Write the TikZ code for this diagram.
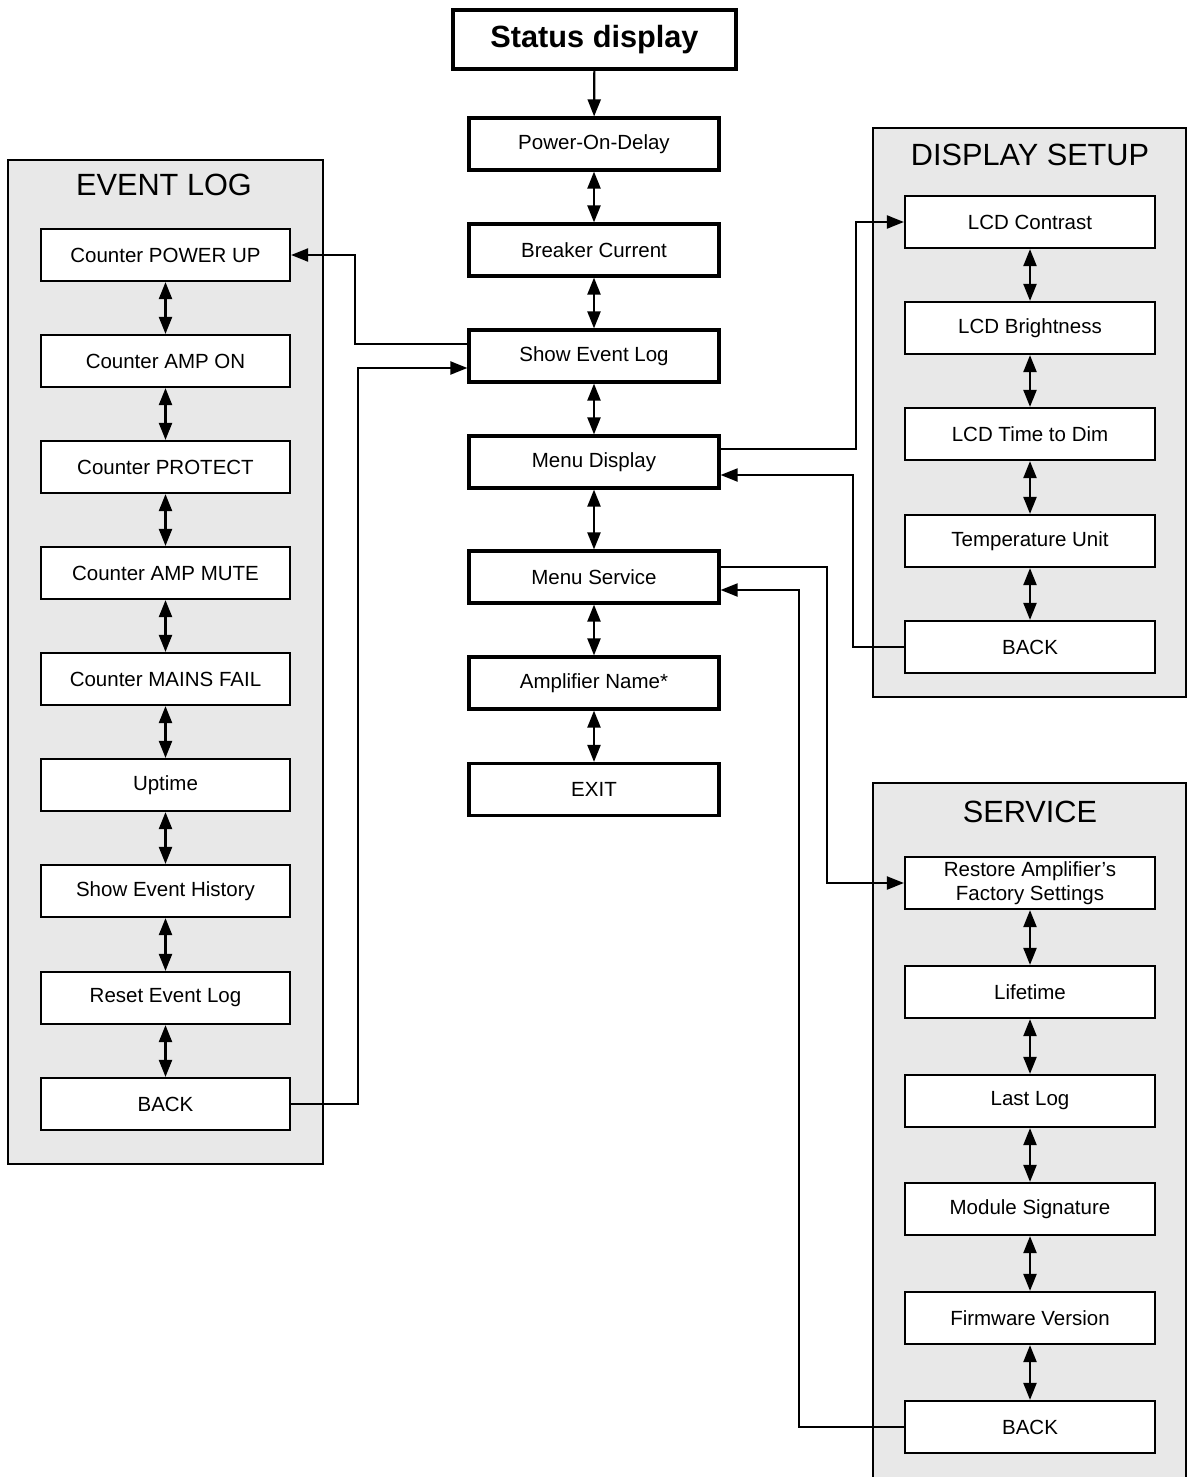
\documentclass[tikz,border=0pt]{standalone}
\usepackage{fontspec}
\setmainfont{Liberation Sans}
\usetikzlibrary{arrows.meta}
\definecolor{panelgray}{HTML}{E8E8E8}
\tikzset{
  panel/.style={draw, fill=panelgray, line width=1.8, inner sep=0},
  ptitle/.style={font=\fontsize{30.7}{34}\selectfont, inner sep=0},
  item/.style={draw, fill=white, line width=2.2, minimum width=249, minimum height=52, inner sep=0, align=center, font=\fontsize{20.5}{24}\selectfont},
  mainitem/.style={item, line width=3.2, minimum width=250},
  tip/.tip={Triangle[length=17pt,width=13pt]},
  dbl/.style={line width=2.2, tip-tip},
  conn/.style={line width=2.1, -tip},
}
\begin{document}
\begin{tikzpicture}[x=1pt,y=-1pt]
\useasboundingbox (0,0) rectangle (1187,1477);
\clip (0,0) rectangle (1187,1477);
% panels
\node[panel, minimum width=315, minimum height=1004] (elpanel) at (165.5,662) {};
\node[panel, minimum width=313, minimum height=569] (dspanel) at (1029.5,412.5) {};
\node[panel, minimum width=313, minimum height=720] (svpanel) at (1029.5,1143) {};
\node[ptitle] (eltitle) at (164,185) {EVENT LOG};
\node[ptitle] (dstitle) at (1030,155) {DISPLAY SETUP};
\node[ptitle] (svtitle) at (1030,812) {SERVICE};
% center column
\node[draw, line width=3.2, fill=white, minimum width=283, minimum height=59, inner sep=0, font=\fontsize{30.7}{34}\selectfont\bfseries] (status) at (594.5,39.5) {Status display};
\node[mainitem] (pod) at (594,144) {Power-On-Delay};
\node[mainitem] (bc) at (594,250) {Breaker Current};
\node[mainitem] (sel) at (594,356) {Show Event Log};
\node[mainitem] (md) at (594,462) {Menu Display};
\node[mainitem] (ms) at (594,577) {Menu Service};
\node[mainitem] (an) at (594,683) {Amplifier Name*};
\node[mainitem] (ex) at (594,789.5) {EXIT};
% event log items
\node[item] (pu) at (165.5,255) {Counter POWER UP};
\node[item] (ao) at (165.5,361) {Counter AMP ON};
\node[item] (pr) at (165.5,467) {Counter PROTECT};
\node[item] (am) at (165.5,573) {Counter AMP MUTE};
\node[item] (mf) at (165.5,679) {Counter MAINS FAIL};
\node[item] (up) at (165.5,785) {Uptime};
\node[item] (seh) at (165.5,891) {Show Event History};
\node[item] (rel) at (165.5,998) {Reset Event Log};
\node[item] (elback) at (165.5,1104) {BACK};
% display setup items
\node[item, minimum width=250] (lc) at (1030,222) {LCD Contrast};
\node[item, minimum width=250] (lb) at (1030,328) {LCD Brightness};
\node[item, minimum width=250] (lt) at (1030,434) {LCD Time to Dim};
\node[item, minimum width=250] (tu) at (1030,541) {Temperature Unit};
\node[item, minimum width=250] (dsback) at (1030,647) {BACK};
% service items
\node[item, minimum width=250] (rf) at (1030,883) {Restore Amplifier's\\Factory Settings};
\node[item, minimum width=250] (lf) at (1030,992) {Lifetime};
\node[item, minimum width=250] (ll) at (1030,1101) {Last Log};
\node[item, minimum width=250] (msig) at (1030,1209) {Module Signature};
\node[item, minimum width=250] (fw) at (1030,1318) {Firmware Version};
\node[item, minimum width=250] (svback) at (1030,1427) {BACK};
% center arrows
\draw[line width=2.2, -tip] (status) -- (pod);
\foreach \a/\b in {pod/bc, bc/sel, sel/md, md/ms, ms/an, an/ex,
  pu/ao, ao/pr, pr/am, am/mf, mf/up, up/seh, seh/rel, rel/elback,
  lc/lb, lb/lt, lt/tu, tu/dsback,
  rf/lf, lf/ll, ll/msig, msig/fw, fw/svback}
  \draw[dbl] (\a.south) -- (\b.north);
% connectors
\draw[conn] ([yshift=12pt]sel.west) -- ++(-112,0) |- (pu.east);
\draw[conn] (elback.east) -- ++(67,0) |- ([yshift=-12pt]sel.west);
\draw[conn] ([yshift=13pt]md.east) -- ++(135,0) |- (lc.west);
\draw[conn] (dsback.west) -- ++(-51,0) |- ([yshift=-13pt]md.east);
\draw[conn] ([yshift=10pt]ms.east) -- ++(106,0) |- (rf.west);
\draw[conn] (svback.west) -- ++(-105,0) |- ([yshift=-13pt]ms.east);
\end{tikzpicture}
\end{document}
